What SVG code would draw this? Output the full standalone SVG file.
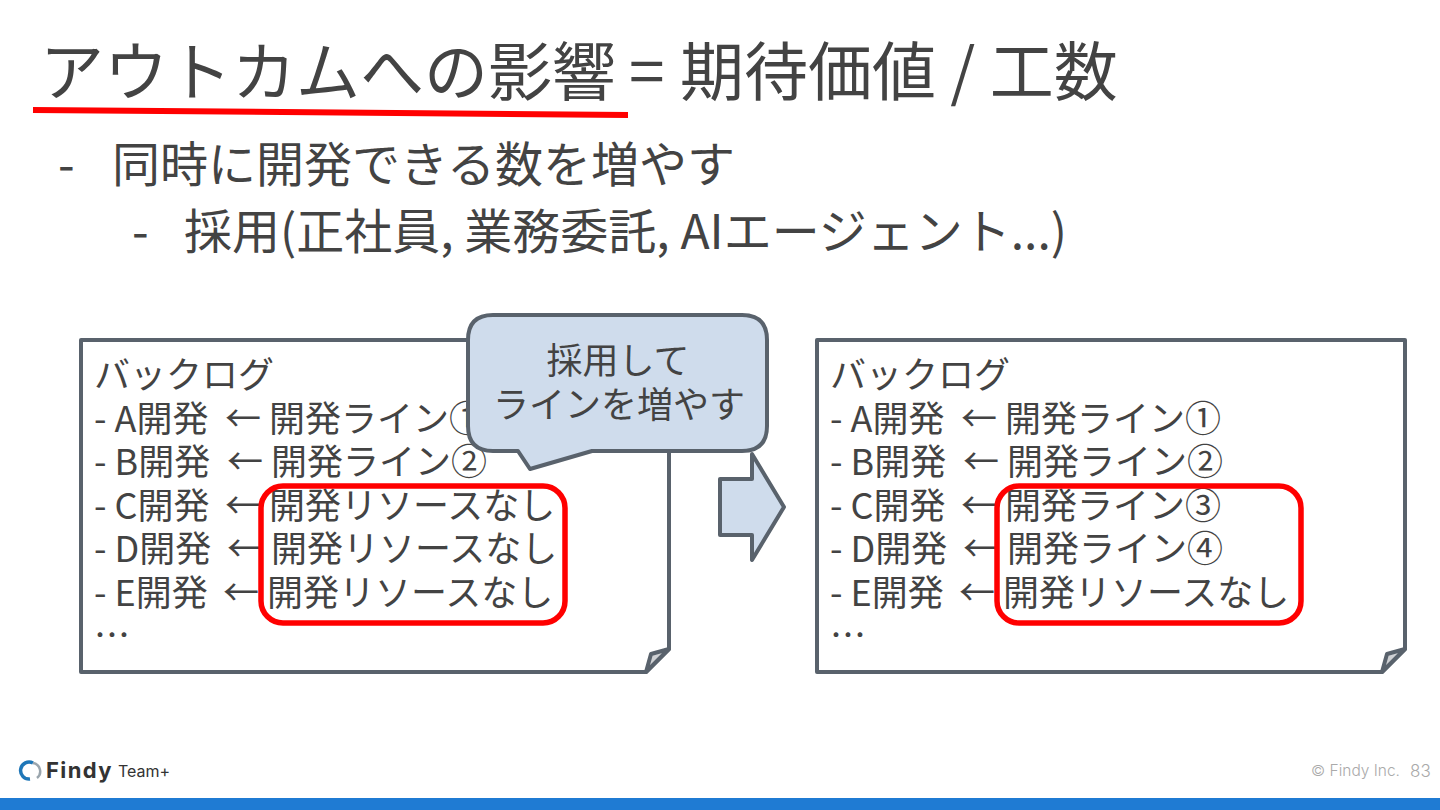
<svg xmlns="http://www.w3.org/2000/svg" width="1440" height="810" viewBox="0 0 1440 810">
<style>
text{font-family:"Noto Sans CJK JP","Noto Sans",sans-serif;fill:#434343}
.t{font-size:36px}
.note{fill:#fff;stroke:#59626c;stroke-width:4;stroke-linejoin:round}
.fold{fill:#cfd1d4;stroke:#59626c;stroke-width:4;stroke-linejoin:round}
.red{fill:none;stroke:#f00;stroke-width:5.5}
.blue{fill:#cfdcec;stroke:#59626c;stroke-width:4;stroke-linejoin:round}
.en{font-family:"Inter","Noto Sans",sans-serif}
</style>
<rect width="1440" height="810" fill="#fff"/>
<g id="title">
<text x="40" y="95" font-size="64">アウトカムへの影響</text>
<text x="629" y="95" font-size="64">=</text>
<text x="680" y="95" font-size="64">期待価値 / 工数</text>
<path d="M33 110 L628 115" stroke="#f00" stroke-width="6" fill="none"/>
</g>
<g id="bullets">
<text x="58" y="182" font-size="48">-</text>
<text x="112" y="182" font-size="48">同時に開発できる数を増やす</text>
<text x="132" y="249" font-size="48">-</text>
<text x="184" y="249" font-size="48">採用(正社員, 業務委託, AIエージェント...)</text>
</g>
<g id="note-left">
<path class="note" d="M81 340H669V649L646 672H81Z"/>
<path class="fold" d="M646 672L651 654L669 649Z"/>
<text class="t" x="94" y="388">バックログ</text>
<text class="t" x="94" y="432">- A開発</text><text class="t" x="225" y="432">← 開発ライン①</text>
<text class="t" x="94" y="475">- B開発</text><text class="t" x="227" y="475">← 開発ライン②</text>
<text class="t" x="94" y="519">- C開発</text><text class="t" x="225" y="519">← 開発リソースなし</text>
<text class="t" x="94" y="562">- D開発</text><text class="t" x="227" y="562">← 開発リソースなし</text>
<text class="t" x="94" y="606">- E開発</text><text class="t" x="223" y="606">← 開発リソースなし</text>
<text class="t" x="94" y="649">…</text>
<rect class="red" x="261" y="486" width="304" height="137" rx="22"/>
</g>
<g id="note-right">
<path class="note" d="M817 340H1405V649L1382 672H817Z"/>
<path class="fold" d="M1382 672L1387 654L1405 649Z"/>
<text class="t" x="830" y="388">バックログ</text>
<text class="t" x="830" y="432">- A開発</text><text class="t" x="961" y="432">← 開発ライン①</text>
<text class="t" x="830" y="475">- B開発</text><text class="t" x="963" y="475">← 開発ライン②</text>
<text class="t" x="830" y="519">- C開発</text><text class="t" x="961" y="519">← 開発ライン③</text>
<text class="t" x="830" y="562">- D開発</text><text class="t" x="963" y="562">← 開発ライン④</text>
<text class="t" x="830" y="606">- E開発</text><text class="t" x="959" y="606">← 開発リソースなし</text>
<text class="t" x="830" y="649">…</text>
<rect class="red" x="997" y="486" width="304" height="137" rx="22"/>
</g>
<g id="arrow">
<path class="blue" d="M720 479H752V454L784 507L752 560V535H720Z"/>
</g>
<g id="callout">
<path class="blue" d="M493 315H742Q767 315 767 340V426Q767 451 742 451H592L530 469L518 451H493Q468 451 468 426V340Q468 315 493 315Z"/>
<text x="618" y="374" font-size="36" text-anchor="middle">採用して</text>
<text x="619" y="418" font-size="36" text-anchor="middle">ラインを増やす</text>
</g>
<g id="footer">
<rect x="0" y="798" width="1440" height="12" fill="#1f7bd3"/>
<path d="M33 763A8.5 8.5 0 1 0 30 779" fill="none" stroke="#1f77b8" stroke-width="3.5"/>
<path d="M33 763A8.5 8.5 0 0 1 37 778" fill="none" stroke="#9aa5ad" stroke-width="2.5"/>
<text class="en" x="46" y="778" font-size="22" font-weight="700" letter-spacing="1.4" style="fill:#333">Findy</text>
<text class="en" x="118" y="777" font-size="16" style="fill:#333">Team+</text>
<text class="en" x="1311" y="776" font-size="15.5" font-weight="300" style="fill:#aaa">© Findy Inc.</text>
<text class="en" x="1410" y="777" font-size="17" font-weight="300" style="fill:#aaa">83</text>
</g>
</svg>
